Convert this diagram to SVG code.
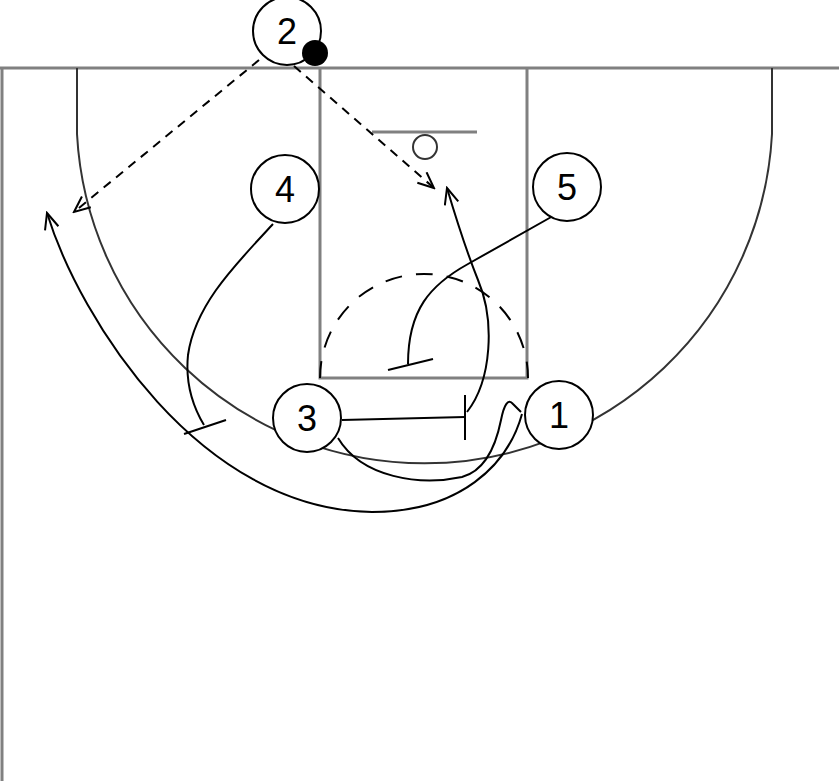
<svg xmlns="http://www.w3.org/2000/svg" width="839" height="781" viewBox="0 0 839 781">
<style>
.court{fill:none;stroke:#808080;stroke-width:3}
.arc{fill:none;stroke:#333;stroke-width:2}
.mv{fill:none;stroke:#000;stroke-width:2}
.pass{fill:none;stroke:#000;stroke-width:2;stroke-dasharray:9 7}
.ft{fill:none;stroke:#000;stroke-width:2;stroke-dasharray:17 14}
.pl{fill:#fff;stroke:#000;stroke-width:2}
.lb{font-family:"Liberation Sans",Arial,sans-serif;font-size:36px;text-anchor:middle;fill:#000}
</style>
<defs>
<marker id="arr" viewBox="0 0 20 16" refX="18" refY="8" markerWidth="20" markerHeight="16" orient="auto" markerUnits="userSpaceOnUse">
<path d="M2,1 L18,8 L2,15" fill="none" stroke="#000" stroke-width="2"/>
</marker>
</defs>
<rect width="839" height="781" fill="#fff"/>
<g id="court">
<line class="court" x1="0" y1="68" x2="839" y2="68"/>
<line class="court" x1="2" y1="68" x2="2" y2="781"/>
<path class="court" d="M320,68 L320,378 L527,378 L527,68"/>
<path class="arc" d="M77,68 L77,134 A348,348 0 0 0 772,134 L772,68"/>
<path class="ft" d="M320,378 A104,104 0 0 1 528,378"/>
<line class="court" x1="372" y1="132" x2="477" y2="132"/>
<circle class="arc" cx="425" cy="147" r="12"/>
</g>
<g id="connectors">
<path class="pass" d="M259,60 L74,212" marker-end="url(#arr)"/>
<path class="pass" d="M294,66 L434,188" marker-end="url(#arr)"/>
<path class="mv" d="M553,216 L468,264 C430,285 408,310 408,364"/>
<path class="mv" d="M388,370 L433,359"/>
<path class="mv" d="M342,420 L465,417"/>
<path class="mv" d="M465,395 L465,440"/>
<path class="mv" d="M467,412 C492,380 495,320 478,280 C466,250 455,215 447,188" marker-end="url(#arr)"/>
<path class="mv" d="M338,438 C362,478 420,486 462,477 C488,470 497,440 501,420 C504,405 508,398 513,404 L521,412"/>
<path class="mv" d="M522,414 C508,465 460,512 372,512 C200,510 80,320 47,213" marker-end="url(#arr)"/>
<path class="mv" d="M273,224 C235,265 195,305 188,355 C185,385 195,410 204,425"/>
<path class="mv" d="M184,434 L226,420"/>
</g>
<g id="p2"><circle class="pl" cx="287" cy="31" r="34"/><text class="lb" x="287" y="44">2</text></g>
<g id="ball"><circle cx="315" cy="53" r="13" fill="#000"/></g>
<g id="p4"><circle class="pl" cx="285" cy="189" r="34"/><text class="lb" x="285" y="202">4</text></g>
<g id="p5"><circle class="pl" cx="567" cy="187" r="34"/><text class="lb" x="567" y="200">5</text></g>
<g id="p3"><circle class="pl" cx="307" cy="418" r="34"/><text class="lb" x="307" y="431">3</text></g>
<g id="p1"><circle class="pl" cx="559" cy="415" r="34"/><text class="lb" x="559" y="428">1</text></g>
</svg>
